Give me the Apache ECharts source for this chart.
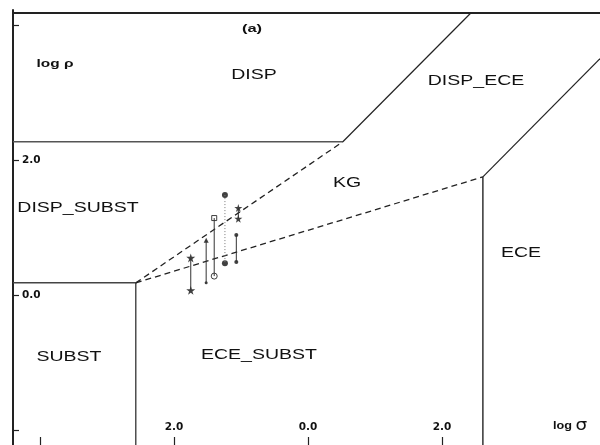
<!DOCTYPE html>
<html>
<head>
<meta charset="utf-8">
<script src="https://cdn.jsdelivr.net/npm/echarts@6/dist/echarts.min.js"></script>
<style>
html,body{margin:0;padding:0;background:#fff;}
#c{width:600px;height:445px;}
</style>
</head>
<body>
<div id="c"></div>
<script>
// Axis extents (log sigma, log rho)
const xRange = [-4.403, 4.358];
const yRange = [-2.222, 4.222];
const xTickValues = [-4, -2, 0, 2];
const xLabelValues = [-2, 0, 2];
const yTickValues = [-2, 0, 2, 4];
const yLabelValues = [0, 2];

// Region boundary vertices (data coords)
const frameTop = [[-4.403, 4.178], [4.358, 4.178]];
const dispLine = [[-4.403, 2.27], [0.52, 2.27]];
const diagLeft = [[0.52, 2.27], [2.43, 4.178]];
const diagRight = [[2.61, 1.75], [4.358, 3.5]];
const eceVertical = [[2.61, 1.75], [2.61, -2.222]];
const substHoriz = [[-4.403, 0.18], [-2.57, 0.18]];
const substVertical = [[-2.57, 0.18], [-2.57, -2.222]];
const kgUpper = [[-2.57, 0.18], [0.52, 2.27]];
const kgLower = [[-2.57, 0.18], [2.61, 1.75]];

// Data points (pairs joined by vertical lines)
const starsA = [[-1.75, 0.55], [-1.75, 0.07]];
const arrowB = [[-1.52, 0.81], [-1.52, 0.18]];
const openCTop = [[-1.40, 1.14]];
const openCBottom = [[-1.40, 0.28]];
const filledD = [[-1.24, 1.48], [-1.24, 0.47]];
const crossE = [[-1.04, 1.29], [-1.04, 1.13]];
const dotsF = [[-1.07, 0.89], [-1.07, 0.49]];

const regionLabels = ['DISP', 'DISP_ECE', 'KG', 'DISP_SUBST', 'ECE', 'SUBST', 'ECE_SUBST'];

const INK = '#222';
const STAR = 'path://M50,0 L61,35 L98,35 L68,57 L79,91 L50,70 L21,91 L32,57 L2,35 L39,35 Z';

function seglw(data, color, width, type) {
  return {
    type: 'line', data: data, symbol: 'none', clip: false, silent: true,
    lineStyle: {color: color, width: width, type: type || 'solid'}
  };
}

const chart = echarts.init(document.getElementById('c'), null, {renderer: 'canvas'});
const fmt = v => Math.abs(v).toFixed(1);
const tickFont = {fontFamily: 'DejaVu Sans', fontWeight: 'bold', fontSize: 10.5, color: '#111'};

const option = {
  animation: false,
  backgroundColor: '#fff',
  grid: {left: 13, right: 0, top: 10, bottom: 0, containLabel: false},
  xAxis: {
    type: 'value', min: xRange[0], max: xRange[1],
    axisLine: {show: false, onZero: false},
    splitLine: {show: false},
    axisTick: {show: true, inside: true, length: 8, customValues: xTickValues, lineStyle: {color: INK, width: 1.2}},
    axisLabel: Object.assign({inside: true, margin: 12, customValues: xLabelValues, formatter: fmt}, tickFont)
  },
  yAxis: {
    type: 'value', min: yRange[0], max: yRange[1],
    axisLine: {show: true, onZero: false, lineStyle: {color: INK, width: 2}},
    splitLine: {show: false},
    axisTick: {show: true, inside: true, length: 6, customValues: yTickValues, lineStyle: {color: INK, width: 1.2}},
    axisLabel: Object.assign({inside: true, margin: 9, customValues: yLabelValues, formatter: fmt}, tickFont)
  },
  series: [
    seglw(frameTop, INK, 2),
    seglw(dispLine, '#555', 1.5),
    seglw(diagLeft, INK, 1.2),
    seglw(diagRight, INK, 1.2),
    seglw(eceVertical, '#333', 1.5),
    seglw(substHoriz, '#444', 1.5),
    seglw(substVertical, INK, 1.2),
    seglw(kgUpper, INK, 1.3, [6, 4]),
    seglw(kgLower, INK, 1.3, [6, 4]),
    // vertical connectors
    seglw(starsA, '#333', 1),
    seglw(arrowB, '#333', 1),
    seglw([openCTop[0], openCBottom[0]], '#333', 1),
    seglw(filledD, '#777', 1, [1, 2]),
    seglw(crossE, '#333', 1),
    seglw(dotsF, '#333', 1),
    // markers
    {type: 'scatter', data: starsA, symbol: STAR, symbolSize: 9, itemStyle: {color: '#111'}, silent: true},
    {type: 'scatter', data: [arrowB[0]], symbol: 'triangle', symbolSize: 5, itemStyle: {color: '#111'}, silent: true},
    {type: 'scatter', data: [arrowB[1]], symbol: 'circle', symbolSize: 3, itemStyle: {color: '#111'}, silent: true},
    {type: 'scatter', data: openCTop, symbol: 'rect', symbolSize: 5, itemStyle: {color: '#fff', borderColor: '#111', borderWidth: 1}, silent: true},
    {type: 'scatter', data: openCBottom, symbol: 'circle', symbolSize: 6, itemStyle: {color: '#fff', borderColor: '#111', borderWidth: 1}, silent: true},
    {type: 'scatter', data: filledD, symbol: 'circle', symbolSize: 6, itemStyle: {color: '#111'}, silent: true},
    {type: 'scatter', data: crossE, symbol: STAR, symbolSize: 8, itemStyle: {color: '#111'}, silent: true},
    {type: 'scatter', data: dotsF, symbol: 'circle', symbolSize: 4, itemStyle: {color: '#111'}, silent: true}
  ],
  graphic: (function () {
    const big = {fontFamily: 'Liberation Sans', fontSize: 15, fill: '#111'};
    const pos = [[254, 75], [476, 81], [347, 183], [78, 208], [521, 253], [69, 357], [259, 355]];
    const g = regionLabels.map((t, i) => ({
      type: 'text', x: pos[i][0], y: pos[i][1], scaleX: 1.3, silent: true,
      style: Object.assign({text: t, align: 'center', verticalAlign: 'middle'}, big)
    }));
    g.push({type: 'text', x: 252, y: 29, scaleX: 1.5, silent: true,
      style: {text: '(a)', align: 'center', verticalAlign: 'middle', fontFamily: 'Liberation Sans', fontWeight: 'bold', fontSize: 11, fill: '#111'}});
    g.push({type: 'text', x: 55, y: 64, scaleX: 1.4, silent: true,
      style: {text: 'log ρ', align: 'center', verticalAlign: 'middle', fontFamily: 'Liberation Sans', fontWeight: 'bold', fontSize: 11, fill: '#111'}});
    g.push({type: 'text', x: 570, y: 426, scaleX: 1.15, silent: true,
      style: {text: '{a|log }{b|σ}', align: 'center', verticalAlign: 'middle',
        rich: {a: {fontFamily: 'Liberation Sans', fontWeight: 'bold', fontSize: 11, fill: '#111'},
               b: {fontFamily: 'DejaVu Sans', fontSize: 16, fill: '#111'}}}});
    return g;
  })()
};
chart.setOption(option);
</script>
</body>
</html>
